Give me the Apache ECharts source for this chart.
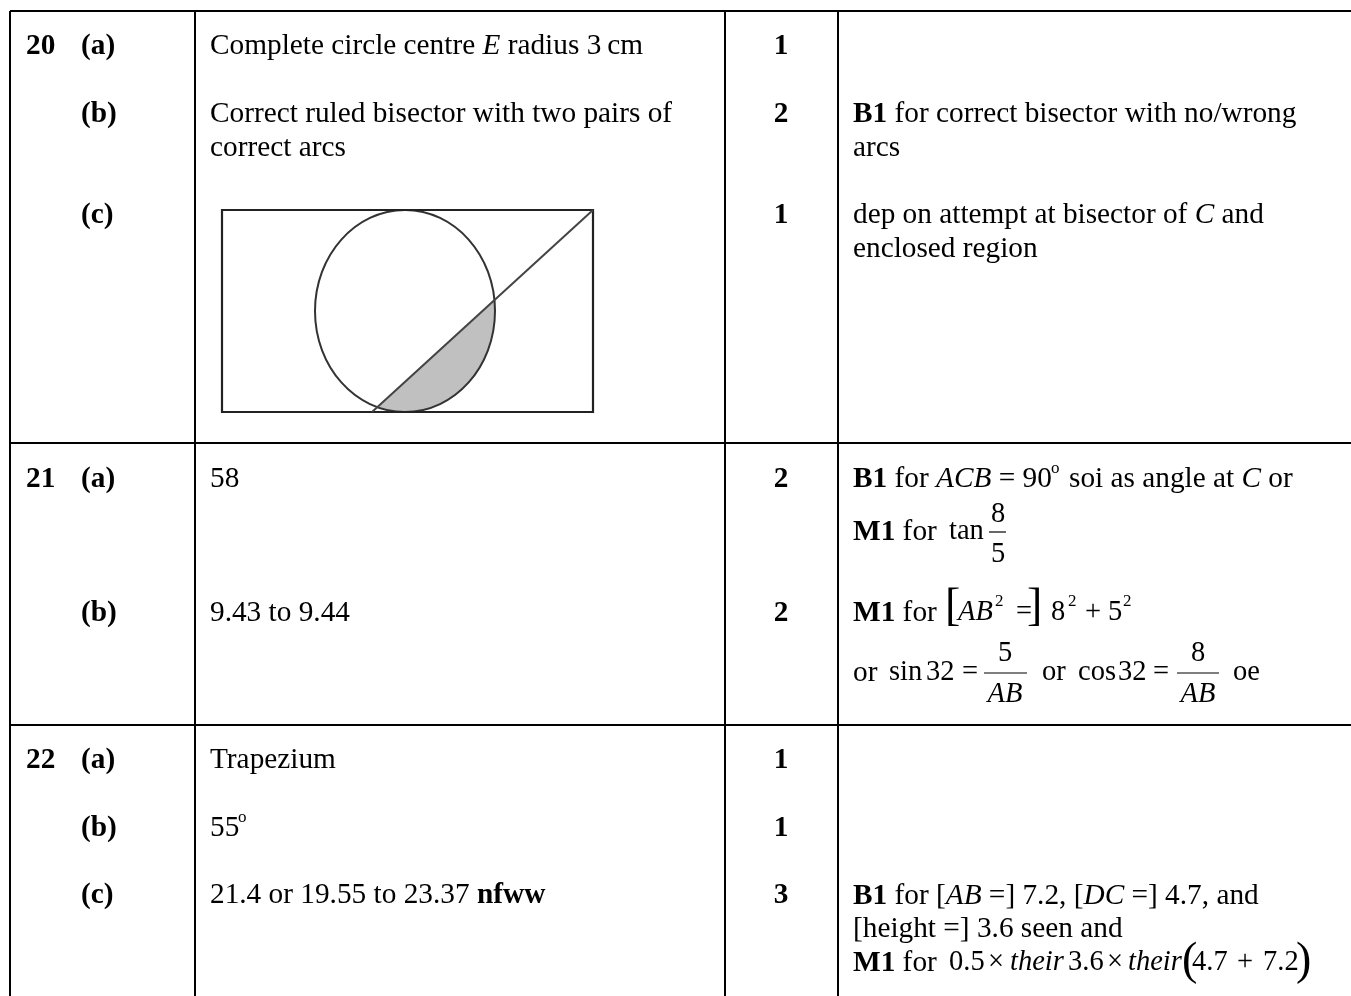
<!DOCTYPE html>
<html>
<head>
<meta charset="utf-8">
<style>html,body{margin:0;padding:0;background:#fff}#main{width:1351px;height:996px}</style>
<script src="https://cdn.jsdelivr.net/npm/echarts@6/dist/echarts.min.js"></script>
</head>
<body>
<div id="main"></div>
<script>
var questionNumbers = ['20', '21', '22'];
var questionRows = [45, 478, 759];
var partLabels = ['(a)', '(b)', '(c)', '(a)', '(b)', '(a)', '(b)', '(c)'];
var partRows = [45, 113, 214, 478, 612, 759, 827, 894];
var markValues = ['1', '2', '1', '2', '2', '1', '1', '3'];
var markRows = [45, 113, 214, 478, 612, 759, 827, 894];

var answerLines = [
  'Complete circle centre {i|E} radius 3\u2009cm',
  'Correct ruled bisector with two pairs of',
  'correct arcs',
  '58',
  '9.43 to 9.44',
  'Trapezium',
  '55',
  '21.4 or 19.55 to 23.37 {b|nfww}'
];
var answerRows = [45, 113, 147, 478, 612, 759, 827, 894];

var noteLines = [
  '{b|B1} for correct bisector with no/wrong',
  'arcs',
  'dep on attempt at bisector of {i|C} and',
  'enclosed region',
  '{b|B1} for {i|ACB} = 90',
  'soi as angle at {i|C} or',
  '{b|M1} for',
  '{b|M1} for',
  'or',
  '{b|B1} for [{i|AB} =] 7.2, [{i|DC} =] 4.7, and',
  '[height =] 3.6 seen and',
  '{b|M1} for'
];
var noteX = [853, 853, 853, 853, 853, 1069, 853, 853, 853, 853, 853, 853];
var noteRows = [113, 147, 214, 248, 478, 478, 531, 612, 672, 895, 928, 962];

// pieces of the typeset formulas, with where they sit and which size
var mathPieces = ['o', 'o', 'tan', '8', '5', '[', 'AB', '2', '=', ']', '8', '2', '+', '5', '2',
  'sin', '32', '=', '5', 'AB', 'or', 'cos', '32', '=', '8', 'AB', 'oe',
  '0.5', '\u00d7', 'their', '3.6', '\u00d7', 'their', '(', '4.7', '+', '7.2', ')'];
var mathX = [1051, 238, 949, 998, 998, 945, 958, 995, 1016, 1027, 1051, 1068, 1085, 1108, 1123,
  889, 926, 962, 1005, 1005, 1042, 1078, 1118, 1153, 1198, 1198, 1233,
  949, 988, 1010, 1068, 1107, 1128, 1182, 1192, 1237, 1263, 1296];
var mathY = [468, 817, 531, 514, 554, 607, 612, 601, 612, 607, 612, 601, 612, 612, 601,
  672, 672, 672, 653, 694, 672, 672, 672, 672, 653, 694, 672,
  962, 962, 962, 962, 962, 962, 961, 962, 962, 962, 961];
var mathKind = ['sup', 'sup', 'n', 'c', 'c', 'big', 'it', 'sup', 'n', 'big', 'n', 'sup', 'n', 'n', 'sup',
  'n', 'n', 'n', 'c', 'cit', 'n', 'n', 'n', 'n', 'c', 'cit', 'n',
  'n', 'n', 'it', 'n', 'n', 'it', 'big', 'n', 'n', 'n', 'big'];

var tableRules = [
  [10, 11, 1351, 11], [10, 443, 1351, 443], [10, 725, 1351, 725],
  [10, 11, 10, 996], [195, 11, 195, 996], [725, 11, 725, 996], [838, 11, 838, 996]
];
var fractionBars = [[989, 532, 1006, 532], [984, 673, 1027, 673], [1177, 673, 1219, 673]];
var diagramRect = [222, 210, 593, 412];
var diagramCircle = [405, 311, 90, 101];
var diagramChord = [593, 210, 372, 412];
var shadedAngles = [-0.12, 1.89];

var serif = '"Liberation Serif", "Times New Roman", serif';
var bodySize = 29.3;
var mathSize = 28.5;
var richStyles = {
  b: { fontFamily: serif, fontSize: bodySize, fontWeight: 'bold', fill: '#000' },
  i: { fontFamily: serif, fontSize: bodySize, fontStyle: 'italic', fill: '#000' }
};
var kindStyles = {
  n: { size: mathSize, align: 'left' },
  it: { size: mathSize, align: 'left', style: 'italic' },
  c: { size: mathSize, align: 'center' },
  cit: { size: mathSize, align: 'center', style: 'italic' },
  sup: { size: 17, align: 'left' },
  big: { size: 46, align: 'left' }
};

// every text on the sheet goes through one list
var textItems = [];
function addText(text, x, y, opts) {
  textItems.push({ text: text, x: x, y: y, opts: opts || {} });
}
questionNumbers.forEach(function (t, i) { addText(t, 26, questionRows[i], { weight: 'bold' }); });
partLabels.forEach(function (t, i) { addText(t, 81, partRows[i], { weight: 'bold' }); });
markValues.forEach(function (t, i) { addText(t, 781, markRows[i], { weight: 'bold', align: 'center' }); });
answerLines.forEach(function (t, i) { addText(t, 210, answerRows[i]); });
noteLines.forEach(function (t, i) { addText(t, noteX[i], noteRows[i]); });
mathPieces.forEach(function (t, i) {
  addText(t, mathX[i], mathY[i], kindStyles[mathKind[i]]);
});

var chart = echarts.init(document.getElementById('main'));

function renderSegment(width, color) {
  return function (params, api) {
    var a = api.coord([api.value(0), api.value(1)]);
    var b = api.coord([api.value(2), api.value(3)]);
    return {
      type: 'line',
      shape: { x1: a[0], y1: a[1], x2: b[0], y2: b[1] },
      style: { stroke: color, lineWidth: width }
    };
  };
}

var option = {
  animation: false,
  backgroundColor: '#fff',
  grid: { left: 0, right: 0, top: 0, bottom: 0 },
  xAxis: { type: 'value', min: 0, max: 1351, show: false },
  yAxis: { type: 'value', min: 0, max: 996, inverse: true, show: false },
  series: [
    {
      // shaded part of the circle
      type: 'custom',
      silent: true,
      clip: false,
      data: [diagramCircle],
      renderItem: function (params, api) {
        var cx = api.value(0), cy = api.value(1), rx = api.value(2), ry = api.value(3);
        var pts = [];
        for (var k = 0; k <= 60; k++) {
          var t = shadedAngles[0] + (shadedAngles[1] - shadedAngles[0]) * k / 60;
          pts.push(api.coord([cx + rx * Math.cos(t), cy + ry * Math.sin(t)]));
        }
        return { type: 'polygon', shape: { points: pts }, style: { fill: '#c0c0c0' } };
      }
    },
    {
      type: 'custom',
      silent: true,
      clip: false,
      data: [diagramCircle],
      renderItem: function (params, api) {
        var c = api.coord([api.value(0), api.value(1)]);
        return {
          type: 'ellipse',
          shape: { cx: c[0], cy: c[1], rx: api.value(2), ry: api.value(3) },
          style: { fill: 'none', stroke: '#333', lineWidth: 2 }
        };
      }
    },
    {
      type: 'custom',
      silent: true,
      clip: false,
      data: [diagramRect],
      renderItem: function (params, api) {
        var a = api.coord([api.value(0), api.value(1)]);
        var b = api.coord([api.value(2), api.value(3)]);
        return {
          type: 'rect',
          shape: { x: a[0], y: a[1], width: b[0] - a[0], height: b[1] - a[1] },
          style: { fill: 'none', stroke: '#222', lineWidth: 2.2 }
        };
      }
    },
    { type: 'custom', silent: true, clip: false, data: [diagramChord], renderItem: renderSegment(2, '#444') },
    { type: 'custom', silent: true, clip: false, data: tableRules, renderItem: renderSegment(2, '#000') },
    { type: 'custom', silent: true, clip: false, data: fractionBars, renderItem: renderSegment(1.2, '#000') },
    {
      type: 'custom',
      silent: true,
      clip: false,
      data: textItems.map(function (d) { return [d.x, d.y + 1]; }),
      renderItem: function (params, api) {
        var d = textItems[params.dataIndex];
        var p = api.coord([api.value(0), api.value(1)]);
        return {
          type: 'text',
          x: p[0],
          y: p[1],
          style: {
            text: d.text,
            fontFamily: serif,
            fontSize: d.opts.size || bodySize,
            fontWeight: d.opts.weight || 'normal',
            fontStyle: d.opts.style || 'normal',
            fill: '#000',
            align: d.opts.align || 'left',
            verticalAlign: 'middle',
            rich: richStyles
          }
        };
      }
    }
  ]
};
chart.setOption(option);
</script>
</body>
</html>
